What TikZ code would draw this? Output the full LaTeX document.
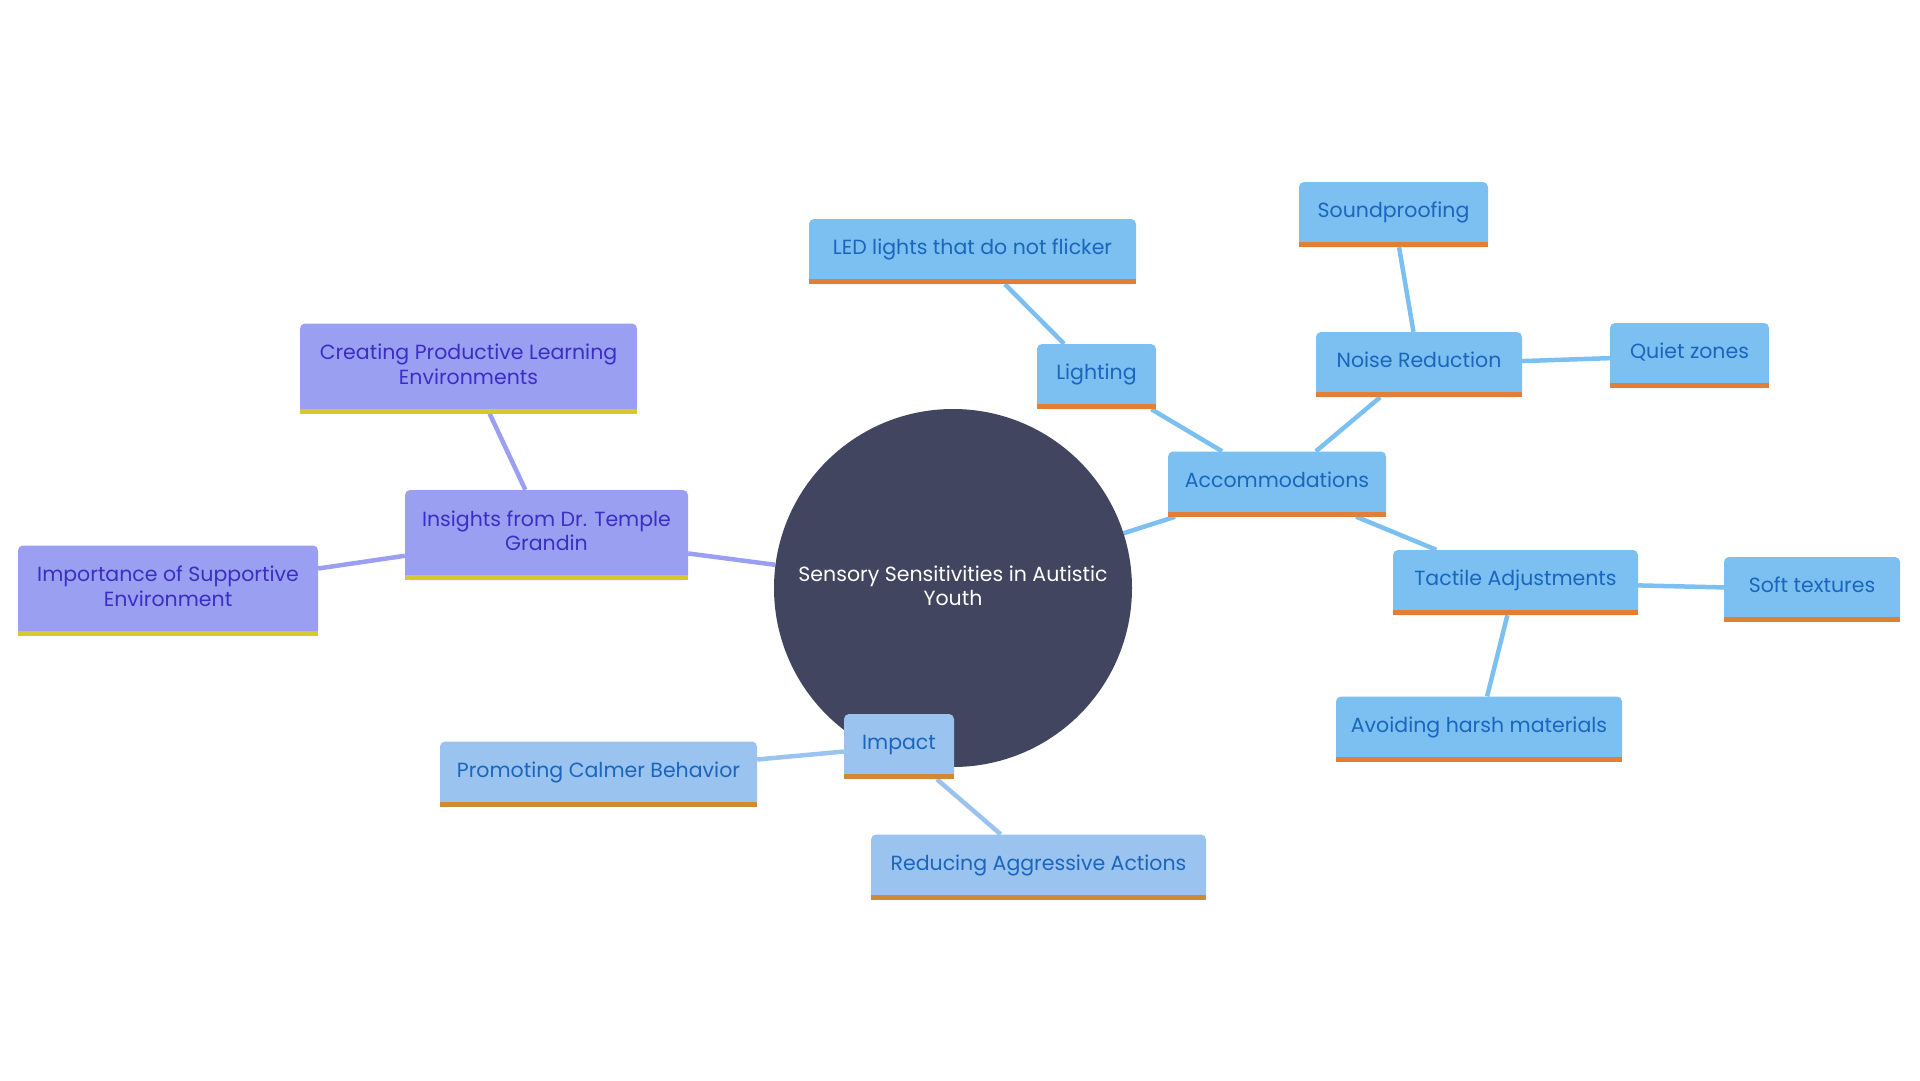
\documentclass[tikz,border=0pt]{standalone}
\usepackage{fontspec}
\setmainfont{Poppins}
\usetikzlibrary{positioning,backgrounds}
\definecolor{Hub}{HTML}{414560}
\definecolor{SkyFill}{HTML}{7BC0F0}
\definecolor{SkyText}{HTML}{1A66BE}
\definecolor{Ember}{HTML}{E07F35}
\definecolor{MistFill}{HTML}{9BC3EF}
\definecolor{Ochre}{HTML}{D08A35}
\definecolor{IrisFill}{HTML}{9B9FF2}
\definecolor{IrisText}{HTML}{3A2EC4}
\definecolor{Mustard}{HTML}{D6C92C}
\tikzset{
    every node/.style={font=\fontsize{20.5}{24.5}\selectfont},
    hub/.style={
        circle, fill=Hub, text=white, minimum size=358pt,
        inner sep=0pt, align=center,
        execute at end node={\rule[-5pt]{0pt}{5pt}}
    },
    skybox/.style={
        fill=SkyFill, text=SkyText, rounded corners=5pt,
        minimum height=65pt, inner sep=0pt, align=center,
        execute at end node={\rule[-9pt]{0pt}{9pt}}
    },
    mistbox/.style={skybox, fill=MistFill},
    irisbox/.style={skybox, fill=IrisFill, text=IrisText, minimum height=90pt},
    skylink/.style={line width=4.5pt, color=SkyFill},
    mistlink/.style={line width=4.5pt, color=MistFill},
    irislink/.style={line width=4.5pt, color=IrisFill},
}
\begin{document}
\begin{tikzpicture}[x=1pt, y=-1pt]
    \useasboundingbox (0,0) rectangle (1920,1080);

    % Central topic
    \node[hub] (root) at (953,588) {Sensory Sensitivities in Autistic\\Youth};

    % Accommodations branch
    \node[skybox, minimum width=218pt] (acc) at (1277,484) {Accommodations};
    \node[skybox, minimum width=119pt] (light) at (1096.5,376.5) {Lighting};
    \node[skybox, minimum width=327pt] (led) at (972.5,251.5) {LED lights that do not flicker};
    \node[skybox, minimum width=206pt] (noise) at (1419,364.5) {Noise Reduction};
    \node[skybox, minimum width=189pt] (sound) at (1393.5,214.5) {Soundproofing};
    \node[skybox, minimum width=159pt] (quiet) at (1689.5,355.5) {Quiet zones};
    \node[skybox, minimum width=245pt] (tactile) at (1515.5,582.5) {Tactile Adjustments};
    \node[skybox, minimum width=176pt] (soft) at (1812,589.5) {Soft textures};
    \node[skybox, minimum width=286pt] (harsh) at (1479,729) {Avoiding harsh materials};

    % Impact branch
    \node[mistbox, minimum width=110pt] (impact) at (899,746.5) {Impact};
    \node[mistbox, minimum width=317pt] (calm) at (598.5,774) {Promoting Calmer Behavior};
    \node[mistbox, minimum width=335pt] (reduce) at (1038.5,867) {Reducing Aggressive Actions};

    % Grandin branch
    \node[irisbox, minimum width=283pt] (insight) at (546.5,535) {Insights from Dr. Temple\\Grandin};
    \node[irisbox, minimum width=337pt] (create) at (468.5,368.5) {Creating Productive Learning\\Environments};
    \node[irisbox, minimum width=300pt] (support) at (168,590.5) {Importance of Supportive\\Environment};

    % Underlines
    \foreach \n in {acc,light,led,noise,sound,quiet,tactile,soft,harsh}
        \fill[Ember] ([yshift=5pt]\n.south west) rectangle (\n.south east);
    \foreach \n in {impact,calm,reduce}
        \fill[Ochre] ([yshift=5pt]\n.south west) rectangle (\n.south east);
    \foreach \n in {insight,create,support}
        \fill[Mustard] ([yshift=5pt]\n.south west) rectangle (\n.south east);

    % Links
    \begin{scope}[on background layer]
        \draw[skylink] (root) -- (acc);
        \draw[skylink] (acc) -- (light);
        \draw[skylink] (light) -- (led);
        \draw[skylink] (acc) -- (noise);
        \draw[skylink] (noise) -- (sound);
        \draw[skylink] (noise) -- (quiet);
        \draw[skylink] (acc) -- (tactile);
        \draw[skylink] (tactile) -- (soft);
        \draw[skylink] (tactile) -- (harsh);
        \draw[mistlink] (root) -- (impact);
        \draw[mistlink] (impact) -- (calm);
        \draw[mistlink] (impact) -- (reduce);
        \draw[irislink] (root) -- (insight);
        \draw[irislink] (insight) -- (create);
        \draw[irislink] (insight) -- (support);
    \end{scope}
\end{tikzpicture}
\end{document}
